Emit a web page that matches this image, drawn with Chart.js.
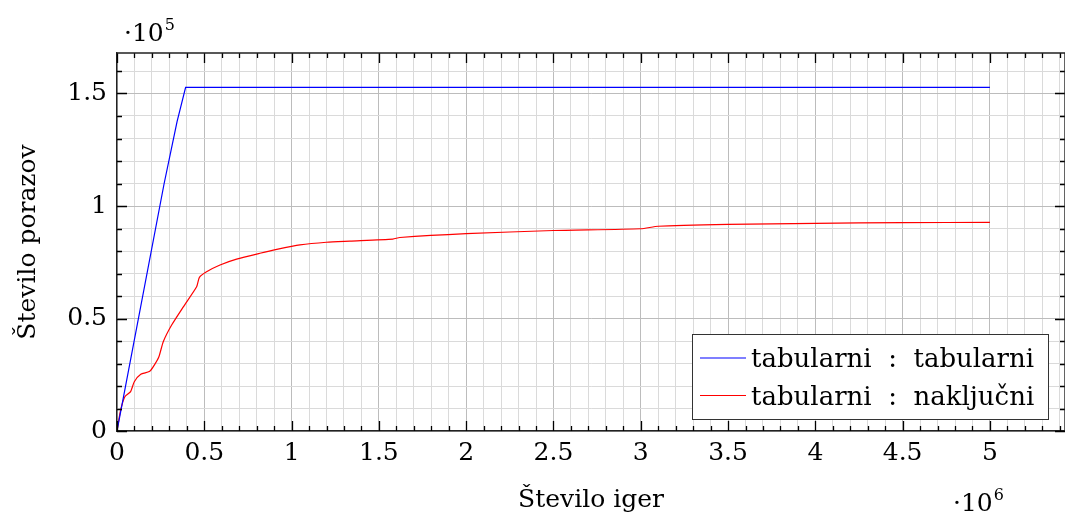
<!DOCTYPE html>
<html>
<head>
<meta charset="utf-8">
<script src="https://cdn.jsdelivr.net/npm/chart.js@4/dist/chart.umd.min.js"></script>
<style>
body { margin: 0; background: #fff; }
#wrap { width: 1065px; height: 515px; }
</style>
</head>
<body>
<div id="wrap"><canvas id="lossChart" width="1065" height="515"></canvas></div>
<script>
// tabularni : tabularni
const tabTabGames = [0, 270000, 344000, 393000, 5000000]
const tabTabLosses = [0, 110000, 137500, 152700, 152700]

// tabularni : naključni
const tabRandGames = [0, 20000, 45000, 78000, 99000, 136000, 185000, 208000, 240000, 265000, 313000, 380000,
    456000, 472000, 513000, 590000, 685000, 819000, 915000, 1048000, 1200000, 1334000, 1580000, 1620000,
    2000000, 2500000, 3000000, 3100000, 3500000, 4000000, 4500000, 5000000]
const tabRandLosses = [0, 9000, 15200, 17500, 21900, 25200, 26400, 28600, 33000, 39700, 47100, 55200,
    64100, 68300, 70800, 73800, 76400, 79000, 80700, 82700, 83900, 84400, 85300, 86000,
    87700, 89100, 89900, 91000, 91800, 92300, 92600, 92700]

const seriesLabels = ['tabularni : tabularni', 'tabularni : naključni']
const seriesColors = ['#0000ff', '#ff0000']

const xMajorValues = [0, 500000, 1000000, 1500000, 2000000, 2500000, 3000000, 3500000, 4000000, 4500000, 5000000]
const xTickLabels = ['0', '0.5', '1', '1.5', '2', '2.5', '3', '3.5', '4', '4.5', '5']
const yMajorValues = [0, 50000, 100000, 150000]
const yTickLabels = ['0', '0.5', '1', '1.5']

const FONT = 'DejaVu Serif'

const toPoints = (xs, ys) => xs.map((x, i) => ({ x: x, y: ys[i] }))

const isMajor = (value, step) => Math.abs(value / step - Math.round(value / step)) < 1e-6

const labelFor = (value, majors, labels) => {
    const i = majors.findIndex(m => Math.abs(m - value) < 1)
    return i >= 0 ? labels[i] : ''
}

// minor steps, so the grid gets a line every 0.1
const stepTicks = (max, step) => {
    const out = []
    for (let i = 0; i * step <= max; i++) out.push({ value: i * step })
    return out
}

// inner tick marks on all four sides, legend box and the exponents
const decorations = {
    id: 'decorations',
    afterDatasetsDraw(chart) {
        const { ctx, chartArea, scales } = chart
        const { left, right, top, bottom } = chartArea
        ctx.save()
        ctx.strokeStyle = '#000'
        ctx.lineWidth = 1.3
        ctx.beginPath()
        scales.x.ticks.forEach(t => {
            const px = Math.round(scales.x.getPixelForValue(t.value)) + 0.5
            const len = isMajor(t.value, 500000) ? 10 : 5
            ctx.moveTo(px, bottom); ctx.lineTo(px, bottom - len)
            ctx.moveTo(px, top); ctx.lineTo(px, top + len)
        })
        scales.y.ticks.forEach(t => {
            const py = Math.round(scales.y.getPixelForValue(t.value)) + 0.5
            const len = isMajor(t.value, 50000) ? 10 : 5
            ctx.moveTo(left, py); ctx.lineTo(left + len, py)
            ctx.moveTo(right, py); ctx.lineTo(right - len, py)
        })
        ctx.stroke()

        // frame top + right
        ctx.strokeStyle = '#222'
        ctx.lineWidth = 1.4
        ctx.beginPath()
        ctx.moveTo(left, top); ctx.lineTo(right, top); ctx.lineTo(right, bottom)
        ctx.stroke()

        // legend
        const bx = 692, by = 334, bw = 356, bh = 85
        ctx.fillStyle = '#fff'
        ctx.fillRect(bx, by, bw, bh)
        ctx.strokeStyle = '#333'
        ctx.lineWidth = 1
        ctx.strokeRect(bx + 0.5, by + 0.5, bw, bh)
        ctx.font = '26px "' + FONT + '"'
        ctx.textBaseline = 'alphabetic'
        chart.data.datasets.forEach((ds, i) => {
            const rowY = by + 24 + i * 37.5
            ctx.strokeStyle = ds.borderColor
            ctx.lineWidth = 1.2
            ctx.beginPath()
            ctx.moveTo(bx + 8, rowY); ctx.lineTo(bx + 54, rowY)
            ctx.stroke()
            ctx.fillStyle = '#000'
            ctx.fillText(ds.label.replace(' : ', '  :  '), bx + 59, rowY + 9)
        })

        // exponent labels
        const drawExp = (x, y, exp) => {
            ctx.fillStyle = '#000'
            ctx.font = '25px "' + FONT + '"'
            ctx.fillText('·10', x, y)
            const w = ctx.measureText('·10').width
            ctx.font = '16px "' + FONT + '"'
            ctx.fillText(exp, x + w + 1, y - 11)
        }
        drawExp(124, 41, '5')
        drawExp(953, 511, '6')
        ctx.restore()
    }
}

new Chart('lossChart', {
    type: 'scatter',
    data: {
        datasets: [{
            label: seriesLabels[0],
            data: toPoints(tabTabGames, tabTabLosses),
            borderColor: seriesColors[0],
            backgroundColor: seriesColors[0],
            borderWidth: 1.2,
            showLine: true,
            pointRadius: 0,
            tension: 0
        }, {
            label: seriesLabels[1],
            data: toPoints(tabRandGames, tabRandLosses),
            borderColor: seriesColors[1],
            backgroundColor: seriesColors[1],
            borderWidth: 1.2,
            showLine: true,
            pointRadius: 0,
            tension: 0.2
        }]
    },
    options: {
        responsive: false,
        animation: false,
        layout: { padding: { top: 53, right: 0, left: 0, bottom: 0 } },
        plugins: {
            legend: { display: false },
            tooltip: { enabled: false }
        },
        scales: {
            x: {
                type: 'linear',
                min: 0,
                max: 5430000,
                afterBuildTicks: scale => { scale.ticks = stepTicks(5430000, 100000) },
                afterFit: scale => {
                    scale.height = 84
                    scale.paddingRight = 0
                    scale.paddingLeft = 0
                },
                border: { display: true, color: '#222', width: 1.4 },
                grid: {
                    drawTicks: false,
                    lineWidth: 1,
                    color: ctx => isMajor(ctx.tick.value, 500000) ? '#bcbcbc' : '#dadada'
                },
                ticks: {
                    autoSkip: false,
                    maxRotation: 0,
                    padding: 7,
                    color: '#000',
                    font: { family: FONT, size: 25 },
                    callback: value => labelFor(value, xMajorValues, xTickLabels)
                },
                title: {
                    display: true,
                    text: 'Število iger',
                    color: '#000',
                    font: { family: FONT, size: 25 },
                    padding: { top: 0, bottom: 0 }
                }
            },
            y: {
                type: 'linear',
                min: 0,
                max: 168000,
                afterBuildTicks: scale => { scale.ticks = stepTicks(168000, 10000) },
                afterFit: scale => {
                    scale.width = 117
                    scale.paddingTop = 0
                },
                border: { display: true, color: '#222', width: 1.4 },
                grid: {
                    drawTicks: false,
                    lineWidth: 1,
                    color: ctx => isMajor(ctx.tick.value, 50000) ? '#bcbcbc' : '#dadada'
                },
                ticks: {
                    autoSkip: false,
                    padding: 10,
                    color: '#000',
                    font: { family: FONT, size: 25 },
                    callback: value => labelFor(value, yMajorValues, yTickLabels)
                },
                title: {
                    display: true,
                    text: 'Število porazov',
                    color: '#000',
                    font: { family: FONT, size: 25 },
                    padding: { top: 13, bottom: 0 }
                }
            }
        }
    },
    plugins: [decorations]
});
</script>
</body>
</html>
